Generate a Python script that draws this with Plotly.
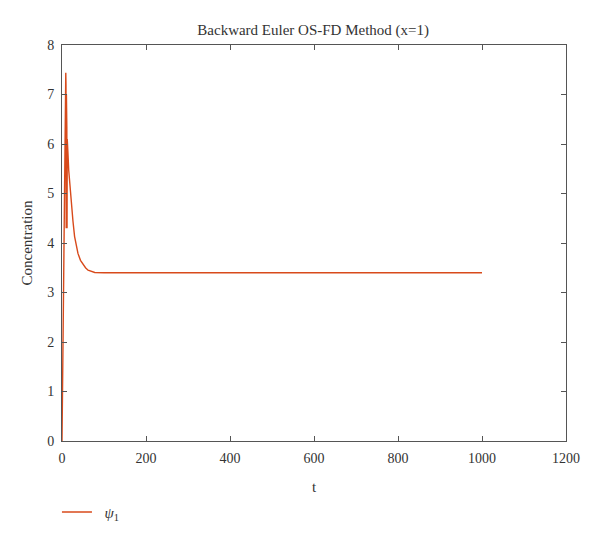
import plotly.graph_objects as go

# time samples and concentration values
t_values = [0, 3, 6, 9, 9.5, 10, 10.5, 11, 11.5, 12, 12.5, 13, 14, 16, 19, 22, 26, 30,
            34, 38, 44, 50, 56, 62, 70, 78, 100, 150, 300, 500, 700, 1000]
psi1_values = [0, 2.4, 4.9, 7.44, 7.2, 4.3, 7.0, 4.3, 6.35, 4.3, 6.1, 5.7, 5.85, 5.47, 5.1, 4.8, 4.45, 4.13,
               3.93, 3.79, 3.65, 3.56, 3.5, 3.45, 3.42, 3.405, 3.4, 3.4, 3.4, 3.4, 3.4, 3.4]

x_ticks = [0, 200, 400, 600, 800, 1000, 1200]
y_ticks = [0, 1, 2, 3, 4, 5, 6, 7, 8]

FONT = "Liberation Serif"
AX = "#555555"
TXT = "#333333"

fig = go.Figure()
fig.add_trace(go.Scatter(
    x=t_values, y=psi1_values, mode="lines",
    line=dict(color="#d84a1b", width=1.4),
    name="  <i>ψ</i><sub>1</sub>",
))

axis_common = dict(
    showline=True, linecolor=AX, linewidth=1, mirror="ticks",
    ticks="inside", ticklen=5, tickcolor=AX, tickwidth=1,
    showgrid=False, zeroline=False, automargin=False,
    tickfont=dict(family=FONT, size=14, color=TXT),
)

fig.update_layout(
    width=600, height=541,
    margin=dict(l=62, r=34, t=45, b=100),
    paper_bgcolor="white", plot_bgcolor="white",
    title=dict(text="Backward Euler OS-FD Method (x=1)", x=0.522, xanchor="center",
               y=0.945, yanchor="middle",
               font=dict(family=FONT, size=15, color=TXT)),
    xaxis=dict(range=[0, 1200], tickvals=x_ticks, ticklabelstandoff=4,
               title=dict(text="t", font=dict(family=FONT, size=15, color=TXT), standoff=16),
               **axis_common),
    yaxis=dict(range=[0, 8], tickvals=y_ticks, ticklabelstandoff=4,
               title=dict(text="Concentration", font=dict(family=FONT, size=15, color=TXT), standoff=10),
               **axis_common),
    showlegend=True,
    legend=dict(x=-0.01, xanchor="left", y=-0.18, yanchor="middle",
                orientation="h", font=dict(family=FONT, size=15, color=TXT),
                bgcolor="rgba(0,0,0,0)"),
)

fig.write_html("out.html", config={"displayModeBar": False})

# remove the default page margin so the figure sits at the window's corner
with open("out.html", encoding="utf-8") as f:
    html = f.read()
html = html.replace("<body>", '<body style="margin:0">', 1)
with open("out.html", "w", encoding="utf-8") as f:
    f.write(html)
